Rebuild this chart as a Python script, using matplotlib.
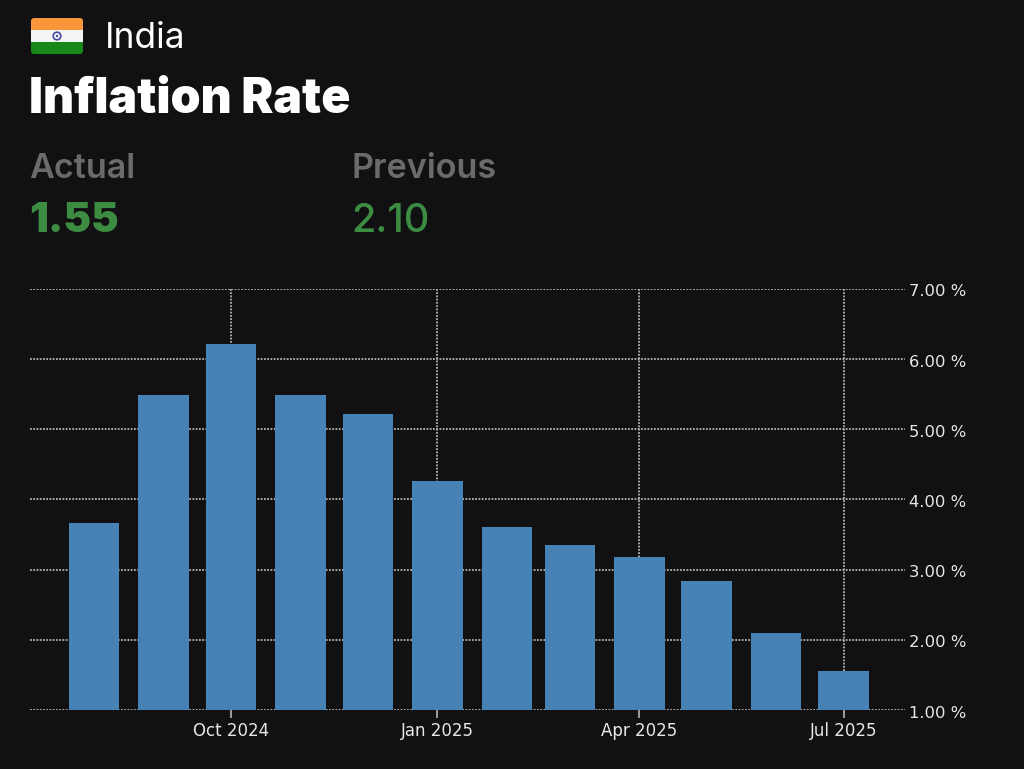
import datetime as dt
import matplotlib
matplotlib.use("Agg")
import matplotlib.pyplot as plt
import matplotlib.dates as mdates
from matplotlib.patches import Rectangle, FancyBboxPatch, Circle
from matplotlib.transforms import ScaledTranslation

# data
months = ["2024-08-01", "2024-09-01", "2024-10-01", "2024-11-01", "2024-12-01", "2025-01-01",
          "2025-02-01", "2025-03-01", "2025-04-01", "2025-05-01", "2025-06-01", "2025-07-01"]
inflation = [3.66, 5.49, 6.21, 5.49, 5.22, 4.26, 3.61, 3.35, 3.18, 2.84, 2.10, 1.55]
y_ticks = [1, 2, 3, 4, 5, 6, 7]
x_ticks = ["2024-10-01", "2025-01-01", "2025-04-01", "2025-07-01"]
x_tick_labels = ["Oct 2024", "Jan 2025", "Apr 2025", "Jul 2025"]
actual_value = "1.55"
previous_value = "2.10"

BG = "#111012"
BAR = "#4682b4"
GRID = "#b4b4b4"
GREY = "#6b6a6c"
GREEN = "#3c8c42"

W, H = 1024, 769
fig = plt.figure(figsize=(W / 100, H / 100), dpi=100, facecolor=BG)


def to_num(s):
    return mdates.date2num(dt.date.fromisoformat(s))


# chart area, px: x 30-905, y 289-710
ax = fig.add_axes([30 / W, 1 - 710 / H, 875 / W, 421 / H], facecolor=BG)
dates = [to_num(m) for m in months]
px_per_day = (843.5 - 231) / (to_num("2025-07-01") - to_num("2024-10-01"))
x0 = to_num("2024-10-01") - (231 - 30) / px_per_day
x1 = to_num("2024-10-01") + (905 - 231) / px_per_day

ax.bar(dates, [v - 1 for v in inflation], bottom=1, width=50.5 / px_per_day, color=BAR, zorder=3)
ax.set_xlim(x0, x1)
ax.set_ylim(1, 7)
ax.grid(True, color=GRID, linestyle=(0, (1, 0.8)), linewidth=1.3, zorder=1)
ax.set_axisbelow(True)

ax.set_xticks([to_num(d) for d in x_ticks])
ax.set_xticklabels(x_tick_labels)
ax.set_yticks(y_ticks)
ax.set_yticklabels([f"{v:.2f} %" for v in y_ticks])
ax.yaxis.tick_right()
ax.tick_params(axis="x", colors=GRID, length=6, width=1.2, labelsize=12, labelcolor="#e8e8e8", pad=3)
ax.tick_params(axis="y", length=0, labelsize=11.8, labelcolor="#e8e8e8", pad=3)
for s in ax.spines.values():
    s.set_visible(False)

# labels sit a little under the grid lines in the reference
nudge = ScaledTranslation(0, -1.5 / 100, fig.dpi_scale_trans)
for lab in ax.get_yticklabels():
    lab.set_transform(lab.get_transform() + nudge)

# header, drawn in pixel coords
top = fig.add_axes([0, 0, 1, 1], facecolor="none")
top.set_xlim(0, W)
top.set_ylim(H, 0)
top.axis("off")

clip = FancyBboxPatch((31, 18), 52, 36, boxstyle="round,pad=0,rounding_size=3",
                      facecolor="none", edgecolor="none", transform=top.transData)
top.add_patch(clip)
for y, c in [(18, "#f7963a"), (30, "#f4f4f4"), (42, "#19881a")]:
    stripe = Rectangle((31, y), 52, 12, facecolor=c, edgecolor="none")
    top.add_patch(stripe)
    stripe.set_clip_path(clip)
top.add_patch(Circle((57, 36), 3.8, facecolor="none", edgecolor="#4a4a9c", linewidth=1.2))
top.add_patch(Circle((57, 36), 1.2, facecolor="#4a4a9c", edgecolor="none"))

font = ["Inter", "DejaVu Sans"]
top.text(105, 38, "India", color="white", fontsize=25.5, family=font, va="center", ha="left")
top.text(29, 100, "Inflation Rate", color="white", fontsize=34.6, family=font, weight="black", va="center", ha="left")
top.text(29, 169, "Actual", color=GREY, fontsize=24.6, family=font, weight="semibold", va="center", ha="left")
top.text(352, 169, "Previous", color=GREY, fontsize=24.6, family=font, weight="semibold", va="center", ha="left")
top.text(29, 221, actual_value, color=GREEN, fontsize=30, family=font, weight="black", va="center", ha="left")
top.text(351, 221, previous_value, color=GREEN, fontsize=28.5, family=font, weight="medium", va="center", ha="left")

fig.savefig("out.png", dpi=100, facecolor=BG)
